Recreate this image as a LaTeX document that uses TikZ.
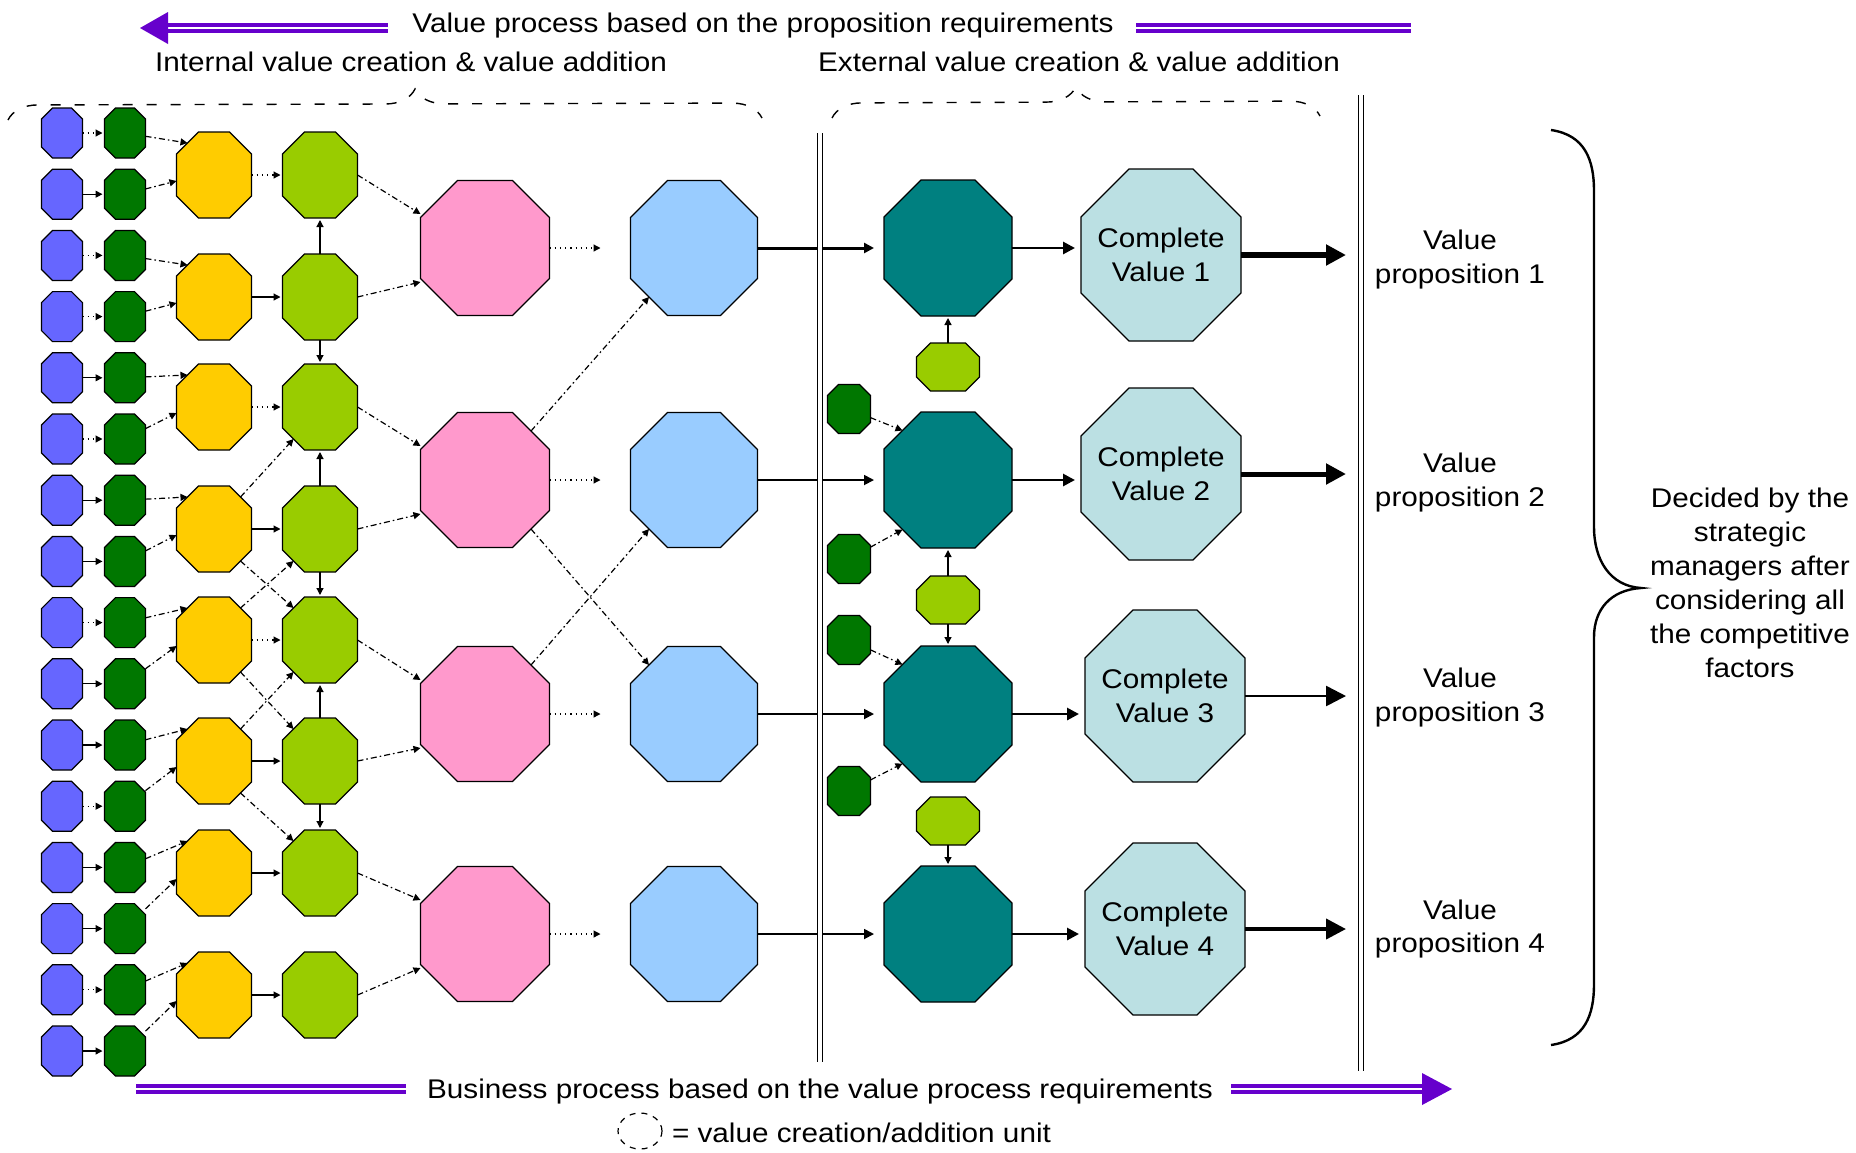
\documentclass[tikz,border=0pt]{standalone}
\usepackage{fontspec}
\setmainfont{Liberation Sans}[FakeStretch=1.1]
\usetikzlibrary{arrows.meta,shapes.geometric,decorations.pathreplacing,calc}

\definecolor{cblue}{HTML}{6666FF}
\definecolor{cdg}{HTML}{007700}
\definecolor{cyel}{HTML}{FFCC00}
\definecolor{clime}{HTML}{99CC00}
\definecolor{cpink}{HTML}{FF99CC}
\definecolor{csky}{HTML}{99CCFF}
\definecolor{cteal}{HTML}{008080}
\definecolor{cpale}{HTML}{BBE0E3}
\definecolor{cviolet}{HTML}{6600CC}

% octagonal unit: name, x, y, width, height, chamfer, fill
\newcommand\octnode[7]{%
  \node[box, minimum width=#4, minimum height=#5] (#1) at (#2,#3) {};
  \draw[line width=0.6pt, fill=#7]
    ([xshift=#6]#1.north west) -- ([xshift=-#6]#1.north east) --
    ([yshift=-#6]#1.north east) -- ([yshift=#6]#1.south east) --
    ([xshift=-#6]#1.south east) -- ([xshift=#6]#1.south west) --
    ([yshift=#6]#1.south west) -- ([yshift=-#6]#1.north west) -- cycle;
  \coordinate (#1-ne) at ($([xshift=-#6]#1.north east)!0.5!([yshift=-#6]#1.north east)$);
  \coordinate (#1-se) at ($([xshift=-#6]#1.south east)!0.5!([yshift=#6]#1.south east)$);
  \coordinate (#1-nw) at ($([xshift=#6]#1.north west)!0.5!([yshift=-#6]#1.north west)$);
  \coordinate (#1-sw) at ($([xshift=#6]#1.south west)!0.5!([yshift=#6]#1.south west)$);
}

\begin{document}
\begin{tikzpicture}[x=0.5pt,y=-0.5pt,
  every node/.style={font=\fontsize{13.5pt}{17pt}\selectfont, inner sep=0pt, outer sep=0pt},
  box/.style={rectangle, draw=none},
  tipS/.style={-{Triangle[length=3.5pt,width=3.5pt]}},
  lnsolid/.style={line width=0.6pt, tipS, shorten >=1pt},
  lndot/.style={line width=0.6pt, dotted, tipS, shorten >=1pt},
  lndd/.style={line width=0.6pt, dash pattern=on 3pt off 1.5pt on 0.8pt off 1.5pt, tipS},
  purplebar/.style={draw=cviolet, line width=2pt, double=white, double distance=1pt},
  divider/.style={draw=black, line width=0.6pt, double=white, double distance=2pt},
  ubrace/.style={dash pattern=on 5pt off 7pt, line width=0.7pt, decorate},
]
\useasboundingbox[fill=white] (0,0) rectangle (1856,1152);

% ---------- unit columns ----------
\foreach \i in {0,...,15}{
  \pgfmathsetmacro\yy{133+61.2*\i}
  \octnode{b\i}{62}{\yy}{20.5pt}{25pt}{5.5pt}{cblue}
  \octnode{g\i}{125}{\yy}{20.5pt}{25pt}{5.5pt}{cdg}
}
\foreach \k/\yy in {0/175,1/297,2/407,3/529,4/640,5/761,6/873,7/995}{
  \octnode{y\k}{214}{\yy}{37.5pt}{43pt}{11pt}{cyel}
  \octnode{l\k}{320}{\yy}{37.5pt}{43pt}{11pt}{clime}
}
\foreach \k/\yy in {0/248,1/480,2/714,3/934}{
  \octnode{p\k}{485}{\yy}{64.5pt}{67.5pt}{18.5pt}{cpink}
  \octnode{s\k}{694}{\yy}{63.5pt}{67.5pt}{18.5pt}{csky}
  \octnode{t\k}{948}{\yy}{64pt}{68pt}{18.5pt}{cteal}
}
\foreach \k/\n/\xx/\yy in {0/1/1161/255,1/2/1161/474,2/3/1165/696,3/4/1165/929}{
  \octnode{c\k}{\xx}{\yy}{80pt}{86pt}{24pt}{cpale}
  \node[align=center] (cl\k) at (c\k) {Complete\\Value \n};
}
\octnode{m0}{948}{367}{31.5pt}{24pt}{7pt}{clime}
\octnode{m1}{948}{600}{31.5pt}{24pt}{7pt}{clime}
\octnode{m2}{948}{821}{31.5pt}{24pt}{7pt}{clime}
\octnode{d0}{849}{409}{21.5pt}{24.5pt}{5.5pt}{cdg}
\octnode{d1}{849}{559}{21.5pt}{24.5pt}{5.5pt}{cdg}
\octnode{d2}{849}{640}{21.5pt}{24.5pt}{5.5pt}{cdg}
\octnode{d3}{849}{791}{21.5pt}{24.5pt}{5.5pt}{cdg}

% ---------- internal connectors ----------
\foreach \i in {1,4,6,7,9,10,12,13,15} \draw[lnsolid] (b\i) -- (g\i);
\foreach \i in {0,2,3,5,8,11,14} \draw[lndot] (b\i) -- (g\i);
\foreach \k in {0,...,7}{
  \pgfmathtruncatemacro\ua{2*\k}
  \pgfmathtruncatemacro\ub{2*\k+1}
  \draw[lndd] (g\ua) -- (y\k-nw);
  \draw[lndd] (g\ub) -- ([yshift=-3pt]y\k.west);
}
\foreach \k in {1,3,5,6,7} \draw[lnsolid] (y\k) -- (l\k);
\foreach \k in {0,2,4} \draw[lndot] (y\k) -- (l\k);
\draw[lndd] (y3-ne) -- (l2-sw);
\draw[lndd] (y3-se) -- (l4-nw);
\draw[lndd] (y4-ne) -- (l3-sw);
\draw[lndd] (y4-se) -- (l5-nw);
\draw[lndd] (y5-ne) -- (l4-sw);
\draw[lndd] (y5-se) -- (l6-nw);
\draw[lnsolid] (l1) -- (l0);
\draw[lnsolid] (l1) -- (l2);
\draw[lnsolid] (l3) -- (l2);
\draw[lnsolid] (l3) -- (l4);
\draw[lnsolid] (l5) -- (l4);
\draw[lnsolid] (l5) -- (l6);
\foreach \k in {0,...,3}{
  \pgfmathtruncatemacro\ua{2*\k}
  \pgfmathtruncatemacro\ub{2*\k+1}
  \draw[lndd] (l\ua.east) -- ([yshift=17pt]p\k.west);
  \draw[lndd] (l\ub.east) -- ([yshift=-17pt]p\k.west);
  \draw[lndot, shorten >=15pt] (p\k) -- (s\k);
}
\draw[lndd] (p1-ne) -- (s0-sw);
\draw[lndd] (p1-se) -- (s2-nw);
\draw[lndd] (p2-ne) -- (s1-sw);

% ---------- external connectors ----------
\draw[line width=1.5pt, -{Triangle[length=5pt,width=5pt]}, shorten >=5pt] (s0) -- (t0);
\foreach \k in {1,2,3}
  \draw[line width=0.9pt, -{Triangle[length=5pt,width=5pt]}, shorten >=5pt] (s\k) -- (t\k);
\foreach \k in {0,...,3}
  \draw[line width=1.4pt, -{Triangle[length=6pt,width=6pt]}, shorten >=3pt] (t\k.east) -- (t\k.east -| c\k.west);
\draw[lnsolid] (m0) -- (t0);
\draw[lnsolid] (m1) -- (t1);
\draw[lnsolid] (m1) -- (t2);
\draw[lnsolid] (m2) -- (t3);
\draw[lndd] (d0) -- (t1-nw);
\draw[lndd] (d1) -- (t1-sw);
\draw[lndd] (d2) -- (t2-nw);
\draw[lndd] (d3) -- (t2-sw);

\coordinate (vpx) at (1346,0);
\foreach \k/\w in {0/3pt,1/2.5pt,2/1.3pt,3/2pt}
  \draw[line width=\w, -{Triangle[length=10pt,width=10pt]}] (c\k.east) -- (c\k.east -| vpx);

% ---------- separators ----------
\draw[divider] (820,133) -- (820,1062);
\draw[divider] (1361,95) -- (1361,1071);

% ---------- value propositions ----------
\node[align=center] (vp1) at (1460,260) {Value\\proposition 1};
\node[align=center] (vp2) at (1460,483) {Value\\proposition 2};
\node[align=center] (vp3) at (1460,698) {Value\\proposition 3};
\node[align=center] (vp4) at (1460,929) {Value\\proposition 4};

\draw[line width=1.2pt] (1551,130) .. controls (1585,135) and (1594,160) .. (1594,191)
  -- (1594,527) .. controls (1594,560) and (1610,586) .. (1641,588)
  .. controls (1610,590) and (1594,610) .. (1594,637)
  -- (1594,984) .. controls (1594,1015) and (1585,1040) .. (1551,1045);
\node[align=center] (dec) at (1750,583) {Decided by the\\strategic\\managers after\\considering all\\the competitive\\factors};

% ---------- headings and process arrows ----------
\node (ttop) at (763,26) {Value process based on the proposition requirements};
\coordinate (ta) at (166,28);
\coordinate (tb) at (388,28);
\draw[purplebar] (ta) -- (tb);
\fill[cviolet] (140,28) -- (168,12) -- (168,44) -- cycle;
\coordinate (tc) at (1136,28);
\coordinate (td) at (1411,28);
\draw[purplebar] (tc) -- (td);

\node (tint) at (411,62) {Internal value creation \& value addition};
\node (text) at (1079,62) {External value creation \& value addition};
\coordinate (iL) at (8,120);
\coordinate (iR) at (762,118);
\draw[ubrace, decoration={brace, amplitude=15pt, aspect=0.54}] (iL) -- (iR);
\coordinate (eL) at (832,118);
\coordinate (eR) at (1320,116);
\draw[ubrace, decoration={brace, amplitude=15pt, aspect=0.5}] (eL) -- (eR);

\node (tbot) at (820,1091) {Business process based on the value process requirements};
\coordinate (ba) at (136,1089);
\coordinate (bb) at (406,1089);
\draw[purplebar] (ba) -- (bb);
\coordinate (bc) at (1231,1089);
\coordinate (bd) at (1424,1089);
\draw[purplebar] (bc) -- (bd);
\fill[cviolet] (1452,1089) -- (1422,1073) -- (1422,1105) -- cycle;

\node[ellipse, draw=black, dashed, line width=0.6pt, minimum width=22pt, minimum height=18pt] (leg) at (640,1131) {};
\node[anchor=west] (legt) at (672,1133) {= value creation/addition unit};
\end{tikzpicture}
\end{document}
